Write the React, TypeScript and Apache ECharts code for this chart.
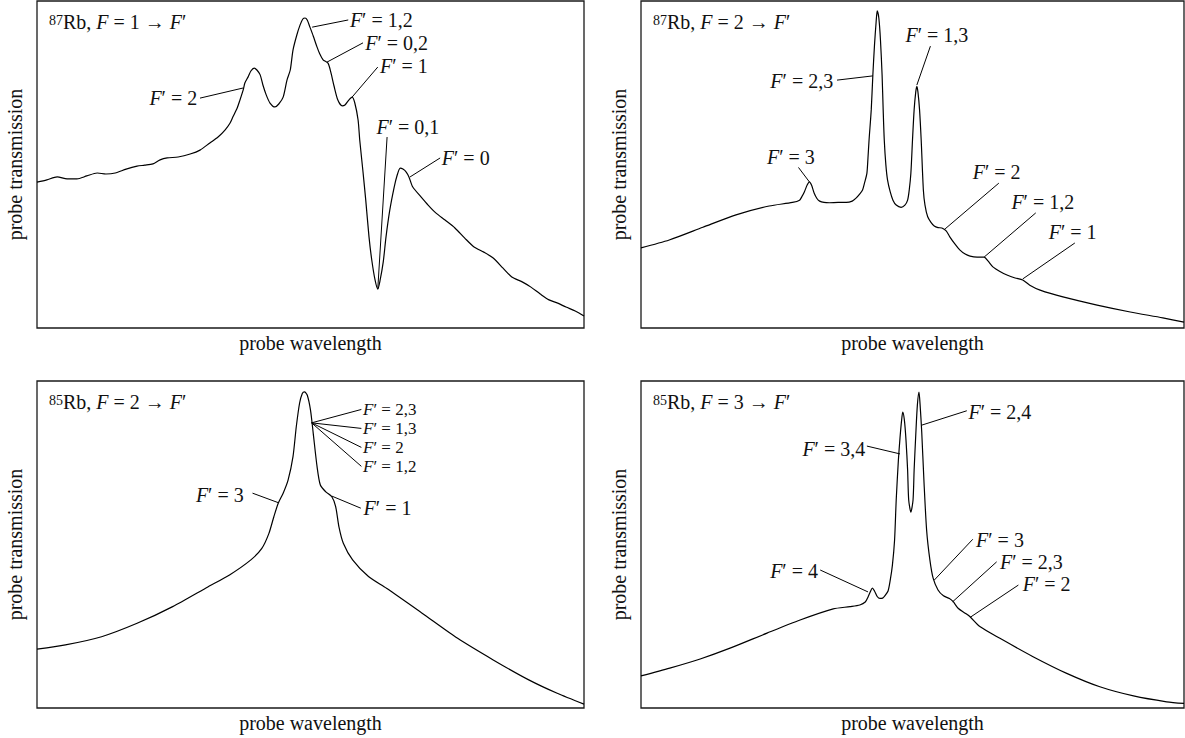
import React, { useEffect, useRef } from "react";
import * as echarts from "echarts";

const FONT = "Liberation Serif";
const INK = "#111";

// ---- texts ----
const xAxisLabel = "probe wavelength";
const yAxisLabel = "probe transmission";
// [isotope mass number, ground-state F]
const panelTitles: string[][] = [
  ["87", "1"],
  ["87", "2"],
  ["85", "2"],
  ["85", "3"],
];

// ---- spectra: [detuning (a.u. 0-100), transmission (a.u. 0-100)] ----
const rb87F1: number[][] = [
  [0, 44.6], [1.8, 45.3], [3.7, 46.2], [5.5, 45.6], [7.3, 45.6], [9.1, 46.5], [11.0, 47.4], [12.6, 47.1],
  [14.3, 47.4], [16.3, 48.6], [18.3, 49.5], [19.7, 49.8], [21.2, 50.2], [22.5, 51.4], [23.8, 52.0],
  [25.8, 52.3], [28.0, 53.2], [29.8, 54.4], [31.6, 56.6], [33.1, 58.4], [34.4, 60.6], [35.3, 62.7],
  [35.8, 64.5], [36.6, 67.3], [37.1, 69.7], [37.7, 72.8], [38.0, 74.9], [38.6, 76.8], [39.1, 78.6],
  [39.7, 79.5], [40.2, 78.9], [40.8, 77.4], [41.3, 74.3], [41.9, 71.3], [42.6, 68.8], [43.5, 67.6],
  [44.2, 68.5], [45.0, 70.6], [45.7, 75.8], [46.3, 78.9], [46.8, 85.0], [47.5, 89.6], [48.1, 92.7],
  [48.6, 94.5], [49.0, 94.8], [49.4, 94.2], [49.9, 92.0], [50.5, 89.3], [51.2, 85.9], [51.7, 83.8],
  [52.3, 82.0], [53.2, 81.0], [53.7, 78.3], [54.3, 74.0], [55.0, 69.7], [55.8, 67.9], [56.3, 68.2],
  [57.0, 69.7], [57.6, 70.6], [58.1, 68.8], [58.7, 63.6], [59.0, 57.5], [59.6, 47.7], [60.1, 39.1],
  [60.7, 27.8], [61.2, 20.8], [61.8, 14.7], [62.3, 11.9], [62.7, 14.4], [63.3, 20.2], [63.8, 27.8],
  [64.5, 36.1], [65.3, 43.1], [65.8, 46.5], [66.4, 48.9], [66.9, 48.6], [67.5, 47.7], [68.0, 46.2],
  [68.7, 43.1], [70.2, 40.1], [71.5, 37.6], [72.9, 35.2], [74.6, 33.0], [76.4, 30.6], [78.2, 27.5],
  [79.9, 24.8], [81.7, 23.2], [83.4, 21.4], [85.2, 18.3], [86.8, 15.6], [88.7, 14.1], [90.3, 12.5],
  [92.0, 10.4], [93.6, 8.6], [95.2, 7.6], [96.7, 6.4], [98.4, 5.2], [100, 3.7],
];

const rb87F2: number[][] = [
  [0, 24.5], [5.2, 26.9], [11.4, 30.8], [17.5, 34.6], [23.6, 37.3], [27.9, 38.4], [29.2, 39.1],
  [29.7, 40.4], [30.1, 41.7], [30.6, 43.7], [31.0, 44.7], [31.4, 43.7], [31.9, 41.2], [32.4, 39.6],
  [32.9, 38.8], [33.7, 38.4], [34.7, 38.3], [36.3, 38.4], [37.8, 38.4], [38.9, 38.8], [39.6, 39.7],
  [40.3, 41.0], [40.8, 42.2], [41.2, 44.6], [41.6, 47.3], [41.8, 52.0], [42.0, 57.5], [42.4, 66.7],
  [42.7, 77.4], [43.0, 86.5], [43.3, 93.6], [43.5, 97.0], [43.8, 94.8], [44.1, 88.1], [44.4, 77.4],
  [44.6, 66.7], [44.8, 57.5], [45.1, 49.8], [45.4, 45.3], [45.9, 41.6], [46.4, 39.1], [47.0, 37.6],
  [47.9, 36.9], [48.6, 37.6], [49.1, 39.1], [49.4, 42.2], [49.7, 47.3], [50.0, 57.5], [50.3, 66.7],
  [50.6, 72.2], [50.8, 73.9], [51.0, 72.2], [51.3, 66.7], [51.6, 57.5], [52.0, 42.2], [52.3, 37.6],
  [52.8, 34.0], [53.4, 32.3], [54.0, 31.2], [54.7, 30.7], [55.4, 30.6], [56.2, 29.7], [56.9, 27.8],
  [57.8, 25.7], [58.7, 23.9], [59.7, 22.6], [60.6, 22.0], [61.9, 21.7], [63.2, 21.7], [63.9, 20.5],
  [64.8, 18.7], [66.1, 17.3], [67.4, 16.2], [68.9, 15.3], [70.3, 14.7], [71.6, 13.1], [73.5, 11.6],
  [77.7, 9.5], [84.0, 7.0], [90.1, 4.9], [96.1, 3.1], [100, 1.8],
];

const rb85F2: number[][] = [
  [0, 18.0], [5.2, 19.3], [11.8, 21.8], [18.3, 25.9], [24.8, 31.0], [31.3, 37.1], [35.2, 40.7],
  [39.1, 45.3], [41.1, 48.8], [42.4, 53.4], [43.3, 58.5], [44.1, 62.6], [45.0, 65.7], [45.9, 69.7],
  [46.8, 76.9], [47.4, 86.0], [48.0, 93.2], [48.5, 96.2], [48.9, 96.7], [49.4, 95.7], [50.0, 91.1],
  [50.5, 84.0], [51.2, 73.8], [51.8, 68.2], [52.8, 66.1], [53.9, 64.6], [54.6, 61.6], [55.2, 55.4],
  [56.0, 50.4], [57.7, 45.3], [60.6, 40.2], [63.9, 36.6], [70.4, 29.0], [76.9, 21.3], [83.4, 14.7],
  [89.9, 8.6], [95.1, 4.5], [100, 1.2],
];

const rb85F3: number[][] = [
  [0, 9.8], [5.3, 12.2], [10.9, 15.0], [16.4, 18.3], [23.2, 22.9], [29.3, 26.9], [35.4, 30.3],
  [38.5, 31.0], [40.3, 31.5], [41.3, 32.4], [41.8, 33.9], [42.3, 35.8], [42.6, 36.7], [43.0, 35.8],
  [43.5, 34.1], [44.0, 33.5], [44.5, 33.6], [44.9, 34.3], [45.5, 35.8], [45.9, 39.1], [46.3, 43.7],
  [46.7, 51.4], [47.0, 63.6], [47.4, 75.8], [47.7, 82.6], [48.0, 88.1], [48.2, 90.5], [48.5, 88.1],
  [48.8, 82.0], [49.1, 72.8], [49.3, 63.6], [49.7, 59.9], [50.1, 63.6], [50.3, 72.8], [50.6, 83.5],
  [50.9, 92.7], [51.2, 96.6], [51.4, 92.7], [51.7, 84.4], [52.1, 69.7], [52.6, 54.4], [53.2, 45.3],
  [53.8, 39.7], [54.7, 36.1], [55.7, 34.3], [56.8, 33.5], [57.5, 32.5], [58.4, 30.5], [59.7, 29.0],
  [60.6, 27.9], [62.4, 24.9], [66.1, 21.3], [72.2, 15.7], [78.4, 10.6], [84.5, 6.5], [90.7, 3.7],
  [96.8, 1.9], [100, 1.4],
];

// ---- annotations: [F' label(s), curveX, curveY, lineEndX, lineEndY, textX, textY, align] ----
// label "" = leader line only; labels joined by "|" = a stacked block of labels
const ann87F1: (string | number)[][] = [
  ["2", 37.7, 73.4, 29.8, 70.3, 29.3, 70.3, "right"],
  ["1,2", 50.3, 92.0, 56.9, 94.2, 57.2, 94.2, "left"],
  ["0,2", 53.0, 81.3, 59.6, 87.2, 60.0, 87.2, "left"],
  ["1", 57.6, 70.6, 62.3, 79.8, 62.7, 80.1, "left"],
  ["0,1", 62.3, 11.9, 64.0, 58.4, 67.8, 61.6, "center"],
  ["0", 68.2, 46.2, 73.7, 52.0, 74.0, 52.0, "left"],
];
const ann87F2: (string | number)[][] = [
  ["3", 31.0, 44.7, 29.0, 49.1, 27.6, 52.3, "center"],
  ["2,3", 42.7, 77.1, 36.1, 75.8, 35.4, 75.6, "right"],
  ["1,3", 50.8, 74.3, 53.3, 86.2, 54.5, 89.6, "center"],
  ["2", 56.0, 30.3, 65.9, 44.3, 65.5, 47.8, "center"],
  ["1,2", 63.2, 21.7, 72.7, 35.2, 74.0, 38.6, "center"],
  ["1", 70.3, 15.0, 79.9, 26.0, 79.5, 29.4, "center"],
];
const ann85F2: (string | number)[][] = [
  ["3", 44.1, 62.8, 39.4, 65.7, 37.8, 65.1, "right"],
  ["", 50.2, 87.2, 59.3, 91.3, 0, 0, "left"],
  ["", 50.2, 87.2, 59.3, 85.5, 0, 0, "left"],
  ["", 50.2, 87.2, 59.3, 79.7, 0, 0, "left"],
  ["", 50.2, 87.2, 59.3, 73.9, 0, 0, "left"],
  ["2,3|1,3|2|1,2", 59.6, 82.6, 59.6, 82.6, 59.6, 82.6, "left"],
  ["1", 53.9, 64.8, 59.2, 61.1, 59.7, 61.2, "left"],
];
const ann85F3: (string | number)[][] = [
  ["4", 41.8, 35.5, 33.0, 42.2, 32.6, 41.8, "right"],
  ["3,4", 47.7, 77.7, 41.6, 80.1, 41.3, 79.2, "right"],
  ["2,4", 51.7, 86.5, 60.0, 90.9, 60.3, 90.6, "left"],
  ["3", 54.0, 39.1, 61.1, 51.6, 61.7, 51.4, "left"],
  ["2,3", 57.4, 32.5, 65.5, 44.7, 66.1, 44.7, "left"],
  ["2", 60.6, 27.7, 69.5, 37.6, 70.3, 37.9, "left"],
];

const spectra = [rb87F1, rb87F2, rb85F2, rb85F3];
const annotations = [ann87F1, ann87F2, ann85F2, ann85F3];

const grids = [
  { left: 37, top: 1, width: 547, height: 327 },
  { left: 641, top: 1, width: 543, height: 327 },
  { left: 37, top: 381, width: 547, height: 327 },
  { left: 641, top: 381, width: 543, height: 327 },
];

const FS = 20;
const LH = 17.6;
const makeRich = (fs: number, lh: number) => ({
  i: { fontFamily: FONT, fontSize: fs, fontStyle: "italic", fontWeight: "normal", color: INK, lineHeight: lh },
  n: { fontFamily: FONT, fontSize: fs, fontWeight: "normal", color: INK, lineHeight: lh },
  s: { fontFamily: FONT, fontSize: 14, fontWeight: "normal", color: INK, verticalAlign: "top", lineHeight: lh },
});
const rich = makeRich(FS, LH);
const STACK_FS = 17;
const STACK_LH = 19;
const richStack = makeRich(STACK_FS, STACK_LH);

const annText = (v: string) =>
  v.split("|").map((s) => `{i|F}{n|′ = ${s}}`).join("\n");

function buildOption() {
  const xAxis: any[] = [];
  const yAxis: any[] = [];
  const series: any[] = [];
  const title: any[] = [];
  grids.forEach((g, i) => {
    xAxis.push({
      type: "value", gridIndex: i, min: 0, max: 100,
      axisLine: { show: false }, axisTick: { show: false }, axisLabel: { show: false },
      splitLine: { show: false },
      name: xAxisLabel, nameLocation: "middle", nameGap: 5,
      nameTextStyle: { fontFamily: FONT, fontSize: FS, color: INK, verticalAlign: "top" },
    });
    yAxis.push({
      type: "value", gridIndex: i, min: 0, max: 100,
      axisLine: { show: false }, axisTick: { show: false }, axisLabel: { show: false },
      splitLine: { show: false },
      name: yAxisLabel, nameLocation: "middle", nameGap: 12,
      nameTextStyle: { fontFamily: FONT, fontSize: FS, color: INK },
    });
    const [iso, f] = panelTitles[i];
    title.push({
      text: `{s|${iso}}{n|Rb, }{i|F}{n| = ${f} → }{i|F}{n|′}`,
      left: g.left + 12, top: g.top + 12, padding: 0,
      textStyle: { fontFamily: FONT, fontWeight: "normal", fontSize: FS, color: INK, rich },
    });
    series.push({
      type: "line", xAxisIndex: i, yAxisIndex: i, data: spectra[i],
      showSymbol: false, symbol: "none", smooth: 0.25,
      lineStyle: { color: "#000", width: 1.2 },
      silent: true,
    });
    const anns = annotations[i];
    series.push({
      type: "custom", coordinateSystem: "cartesian2d", xAxisIndex: i, yAxisIndex: i,
      data: anns.map((a) => [a[1], a[2], a[3], a[4], a[5], a[6]]),
      silent: true,
      renderItem: (params: any, api: any) => {
        const a = anns[params.dataIndex];
        const p1 = api.coord([api.value(0), api.value(1)]);
        const p2 = api.coord([api.value(2), api.value(3)]);
        const t = api.coord([api.value(4), api.value(5)]);
        const children: any[] = [];
        if (p1[0] !== p2[0] || p1[1] !== p2[1]) {
          children.push({ type: "line", shape: { x1: p1[0], y1: p1[1], x2: p2[0], y2: p2[1] },
            style: { stroke: "#000", lineWidth: 1 } });
        }
        const label = String(a[0]);
        if (label) {
          const stacked = label.includes("|");
          children.push({ type: "text", x: t[0], y: t[1],
            style: { text: annText(label), align: a[7] as string, verticalAlign: "middle",
              rich: stacked ? richStack : rich, fill: INK, fontFamily: FONT,
              fontSize: stacked ? STACK_FS : FS, lineHeight: stacked ? STACK_LH : LH } });
        }
        return { type: "group", children };
      },
    });
  });
  return {
    animation: false,
    backgroundColor: "#fff",
    textStyle: { fontFamily: FONT },
    title,
    grid: grids.map((g) => ({ ...g, show: true, borderColor: "#1a1a1a", borderWidth: 1.3, backgroundColor: "transparent" })),
    xAxis, yAxis, series,
  };
}

export default function App() {
  const ref = useRef<HTMLDivElement>(null);
  useEffect(() => {
    if (!ref.current) return;
    const chart = echarts.init(ref.current, undefined, { renderer: "svg" });
    chart.setOption(buildOption() as any);
    return () => chart.dispose();
  }, []);
  return (
    <div
      ref={ref}
      style={{ position: "fixed", left: 0, top: 0, width: 1185, height: 738, background: "#fff" }}
    />
  );
}
